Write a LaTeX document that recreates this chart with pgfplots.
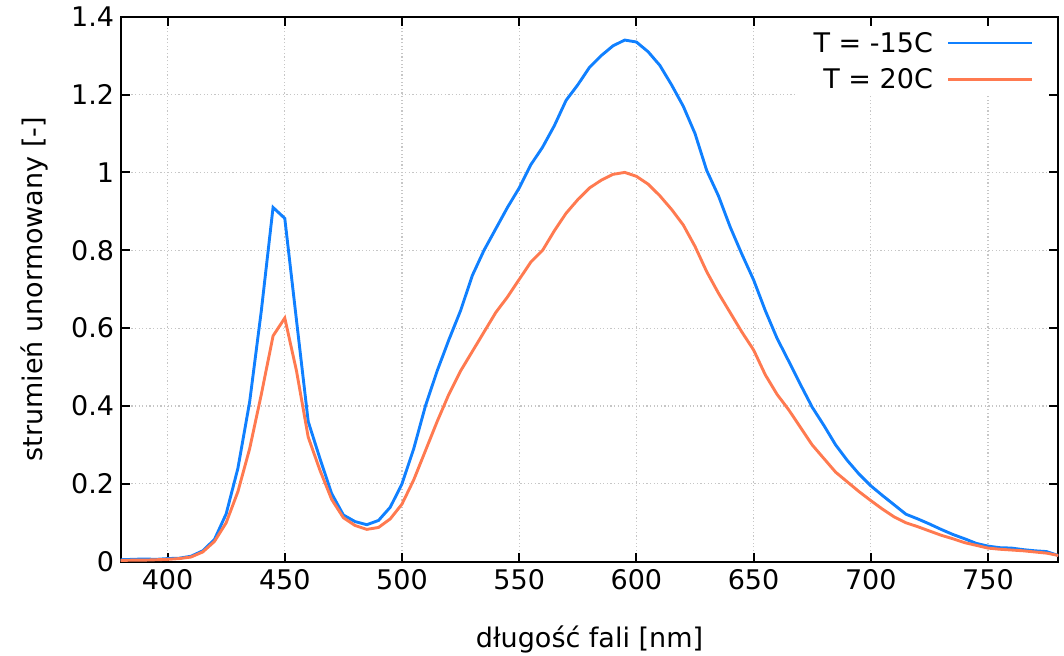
\documentclass[border=0pt]{standalone}
\usepackage{fontspec}
\setmainfont{DejaVu Sans}
\usepackage{pgfplots}
\pgfplotsset{compat=1.18}
\usepackage{pgfplotstable}
\definecolor{cblue}{RGB}{16,128,255}
\definecolor{corange}{RGB}{255,122,80}

\pgfplotstableread{
x y
380 0.005
385 0.006
390 0.007
395 0.006
400 0.008
405 0.009
410 0.014
415 0.028
420 0.057
425 0.123
430 0.24
435 0.41
440 0.645
445 0.91
450 0.882
455 0.62
460 0.36
465 0.265
470 0.175
475 0.12
480 0.103
485 0.095
490 0.106
495 0.14
500 0.20
505 0.29
510 0.40
515 0.49
520 0.57
525 0.645
530 0.735
535 0.80
540 0.855
545 0.91
550 0.96
555 1.02
560 1.065
565 1.12
570 1.185
575 1.225
580 1.27
585 1.30
590 1.325
595 1.34
600 1.335
605 1.31
610 1.275
615 1.225
620 1.17
625 1.10
630 1.005
635 0.94
640 0.86
645 0.79
650 0.724
655 0.645
660 0.574
665 0.515
670 0.455
675 0.397
680 0.35
685 0.30
690 0.26
695 0.225
700 0.195
705 0.17
710 0.146
715 0.122
720 0.11
725 0.097
730 0.083
735 0.07
740 0.059
745 0.047
750 0.04
755 0.036
760 0.035
765 0.031
770 0.028
775 0.026
780 0.016
}\cold

\pgfplotstableread{
x y
380 0.003
385 0.004
390 0.004
395 0.005
400 0.006
405 0.008
410 0.012
415 0.025
420 0.052
425 0.10
430 0.18
435 0.29
440 0.43
445 0.58
450 0.626
455 0.49
460 0.32
465 0.235
470 0.16
475 0.113
480 0.093
485 0.083
490 0.088
495 0.11
500 0.148
505 0.21
510 0.285
515 0.36
520 0.43
525 0.49
530 0.54
535 0.59
540 0.64
545 0.68
550 0.725
555 0.77
560 0.80
565 0.85
570 0.895
575 0.93
580 0.96
585 0.98
590 0.995
595 1.0
600 0.99
605 0.97
610 0.94
615 0.905
620 0.865
625 0.81
630 0.745
635 0.69
640 0.64
645 0.59
650 0.544
655 0.48
660 0.43
665 0.39
670 0.345
675 0.30
680 0.265
685 0.23
690 0.205
695 0.18
700 0.157
705 0.135
710 0.115
715 0.10
720 0.09
725 0.079
730 0.068
735 0.059
740 0.049
745 0.042
750 0.035
755 0.032
760 0.03
765 0.028
770 0.025
775 0.022
780 0.016
}\warm

\begin{document}
\begin{tikzpicture}
\useasboundingbox (-120.7pt,-93.3pt) rectangle (943.3pt,561.7pt);
\begin{axis}[
  at={(0pt,0pt)}, anchor=south west,
  scale only axis,
  width=937.6pt, height=545pt,
  xmin=380, xmax=780, ymin=0, ymax=1.4,
  xtick={400,450,...,750},
  ytick={0,0.2,...,1.4},
  font=\fontsize{27}{32}\selectfont,
  /pgf/number format/assume math mode=true,
  axis line style={line width=2pt},
  tick style={line width=2pt, black},
  major tick length=9pt,
  tick align=inside,
  tick pos=both,
  grid=major,
  major grid style={gray!45, line width=1.2pt, dash pattern=on 1.2pt off 2.4pt},
  xticklabel style={yshift=-4pt},
  yticklabel style={xshift=-3pt},
  xlabel={długość fali [nm]},
  ylabel={strumień unormowany [-]},
  xlabel style={at={(axis description cs:0.5,-0.158)}, anchor=base},
  ylabel style={at={(axis description cs:-0.0829,0.5)}, anchor=base, rotate=0},
  legend plot pos=right,
  legend cell align=right,
  legend image code/.code={\path (0pt,0pt) -- (84pt,0pt); \draw[#1] (0pt,0pt) -- (84pt,0pt);},
  legend style={at={(axis description cs:0.989,0.981)}, anchor=north east,
    draw=none, fill=white, inner xsep=14pt, inner ysep=3pt,
    row sep=11pt, column sep=12pt,
    nodes={inner sep=2pt}},
]
\addplot[cblue, line width=2.9pt] table[x=x,y=y]{\cold};
\addlegendentry{T = -15C}
\addplot[corange, line width=2.9pt] table[x=x,y=y]{\warm};
\addlegendentry{T = 20C}
\end{axis}
\end{tikzpicture}
\end{document}
